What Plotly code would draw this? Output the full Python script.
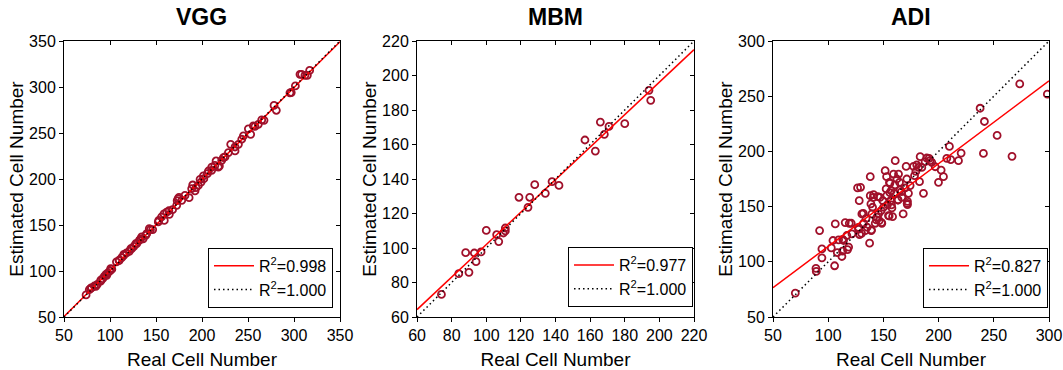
import plotly.graph_objects as go

# ---------------- data ----------------
vgg_real = [74, 77.5, 79, 80, 83, 84.6, 86.2, 89.9, 90, 92, 93.8, 95.6, 96.4, 97.5, 100, 100.7, 102,
            107, 109.8, 110, 112.7, 115, 115, 118, 121, 122.5, 123.5, 126, 127.9, 129, 131.9, 133.3,
            134.4, 136, 138.8, 139.9, 142.7, 144, 146.4, 152.5, 153, 156, 158.7, 159, 161.6, 164,
            164.5, 168, 172.5, 173, 174, 175, 178, 181.5, 186, 188.8, 189.9, 192.4, 193.5, 196,
            197.9, 199, 201.5, 202, 205.8, 207, 210.5, 210.6, 214, 215.3, 217.7, 218.9, 221.4,
            223.3, 225, 228.7, 231.2, 235.9, 235.9, 239.6, 243.2, 245, 250.4, 252.9, 255.8, 257.6,
            261.2, 264.9, 267.4, 278.3, 280.8, 295.6, 297, 301.5, 306.5, 308.3, 311.9, 314.5, 317]
vgg_est = [74, 79.7, 81, 81.9, 83.7, 83.4, 85.5, 89.1, 90, 91.7, 94.2, 96.4, 95.3, 97.8, 100, 102.5, 102,
           110, 111.5, 111.6, 114.5, 118, 117, 119.6, 121.4, 124.2, 124.3, 126.8, 129.6, 129.7, 133.3, 135,
           137, 135, 138.7, 140.6, 146, 145, 145, 153.3, 155, 158.7, 162, 155, 164, 165.5,
           161.6, 166.7, 171.4, 176.4, 178.6, 180, 176.8, 182.2, 179.7, 189.5, 193.5, 187, 190.6, 193,
           199.7, 196.7, 203.3, 200.4, 205.8, 208.7, 209.4, 213, 214.8, 219.6, 213, 214.1, 220.3,
           223.2, 224, 228.7, 237.7, 230.5, 234.8, 237.7, 243.2, 246.8, 254.5, 248.6, 257.7, 257.2,
           259.4, 264.2, 263.8, 280, 274.7, 293.7, 294, 301.2, 313.8, 313.8, 312.7, 312.7, 318]

mbm_real = [74.1, 84.1, 88.1, 90.0, 93.1, 94.1, 97.0, 100.0, 106.0, 107.2, 109.9, 111.0, 111.0,
            118.9, 124.1, 125.1, 128.0, 134.1, 138.0, 142.0, 157.0, 163.0, 165.9, 168.2, 170.9,
            180.0, 194.0, 195.0]
mbm_est = [73.1, 85.1, 97.3, 85.9, 97.1, 92.1, 97.7, 110.2, 107.7, 103.7, 108.7, 111.6, 109.9,
           129.4, 123.6, 129.4, 136.7, 131.7, 138.5, 136.3, 162.6, 156.2, 173.0, 165.9, 170.5,
           172.1, 191.4, 185.6]

adi_real = [70.2, 88.9, 89.2, 92.2, 94.3, 94.3, 102.8, 104.3, 105.8, 106.4, 108.2, 109.4, 112.4,
            113.0, 113.9, 115.4, 116.9, 117.5, 118.5, 119.1, 120.9, 121.5, 126.6, 128.1, 129.3,
            128.4, 127.5, 130.5, 132.0, 133.5, 135.3, 137.5, 138.1, 138.1, 138.7, 139.0, 139.6,
            140.2, 141.1, 142.6, 144.1, 145.0, 145.6, 146.2, 148.0, 148.6, 149.5, 150.1, 151.6,
            152.5, 153.1, 153.7, 154.6, 155.5, 156.5, 157.1, 157.7, 158.3, 159.2, 159.8, 160.7,
            162.2, 163.1, 163.7, 164.6, 165.2, 166.7, 167.9, 169.7, 170.6, 171.2, 171.8, 171.8,
            172.7, 174.2, 177.3, 178.2, 179.4, 181.8, 182.7, 183.3, 184.8, 186.3, 187.8, 189.3,
            191.4, 193.8, 196.9, 199.9, 202.3, 204.4, 207.4, 209.8, 211.0, 218.0, 220.4, 237.6,
            241.5, 240.6, 253.0, 266.5, 273.5, 298.5,
            131.8, 134.3, 127.3, 130.2, 139.2, 143.7, 148.3, 155.2, 157.3, 163.3, 171.5, 166.4,
            160.4, 155.9, 146.9, 140.9, 152.9, 180.2, 155.9, 113.1, 192.2]
adi_est = [71.7, 94.0, 91.3, 128.3, 111.7, 103.6, 112.6, 119.3, 96.4, 134.3, 108.4, 119.9, 104.8,
           109.6, 119.3, 135.5, 123.8, 111.1, 113.3, 134.9, 134.9, 125.3, 166.9, 155.4, 167.5,
           124.7, 129.5, 143.4, 134.9, 128.3, 131.3, 116.9, 177.1, 159.9, 152.4, 128.3, 143.4,
           149.4, 160.8, 134.9, 140.4, 159.0, 143.4, 137.3, 146.4, 134.9, 155.4, 149.4, 182.5,
           166.0, 159.9, 151.8, 141.9, 172.0, 155.4, 164.5, 148.8, 140.9, 179.5, 162.0, 191.6,
           175.0, 156.0, 179.5, 172.0, 165.1, 158.4, 143.4, 166.9, 186.4, 175.0, 154.8, 151.8,
           162.0, 169.0, 186.4, 178.0, 181.9, 185.5, 172.6, 195.2, 185.5, 162.0, 190.7, 194.0,
           193.7, 190.1, 186.1, 172.0, 183.1, 177.1, 193.7, 204.5, 192.5, 191.6, 198.5, 239.1,
           227.1, 198.2, 214.5, 195.5, 261.1, 251.8,
           143.9, 139.4, 131.2, 125.8, 128.8, 137.9, 135.5, 141.5, 151.5, 156.0, 152.9, 163.5,
           169.6, 171.1, 158.4, 158.4, 177.1, 187.7, 162.6, 120.4, 191.6]

# fitted lines (end points) and identity lines
vgg_fit_x, vgg_fit_y = [50, 350], [50.5, 349.2]
mbm_fit_x, mbm_fit_y = [60, 220], [64.3, 215.0]
adi_fit_x, adi_fit_y = [50, 300], [76.5, 263.9]
vgg_id = [50, 350]
mbm_id = [60, 220]
adi_id = [50, 300]

titles = ["VGG", "MBM", "ADI"]
r2_fit = ["0.998", "0.977", "0.827"]
r2_id = "1.000"
ranges = [[50, 350], [60, 220], [50, 300]]
dticks = [50, 20, 50]

# ---------------- figure ----------------
FONT = "Arial, Liberation Sans, sans-serif"
MARK = "#A0102A"
domains = [[0.0, 0.2802], [0.3584, 0.6396], [0.7198, 1.0]]
legend_pos = [(0.2731, 0.033), (0.6386, 0.036), (0.999, 0.033)]

panels = [
    (vgg_real, vgg_est, vgg_fit_x, vgg_fit_y, vgg_id),
    (mbm_real, mbm_est, mbm_fit_x, mbm_fit_y, mbm_id),
    (adi_real, adi_est, adi_fit_x, adi_fit_y, adi_id),
]

fig = go.Figure()
layout = dict(
    width=1063, height=370,
    margin=dict(l=64, r=14, t=41, b=53, autoexpand=False),
    paper_bgcolor="white", plot_bgcolor="white",
    font=dict(family=FONT, color="black"),
    showlegend=True,
    annotations=[],
)

for i, (rx, ey, fx, fy, idl) in enumerate(panels):
    n = i + 1
    xa = "x" if n == 1 else f"x{n}"
    ya = "y" if n == 1 else f"y{n}"
    lg = "legend" if n == 1 else f"legend{n}"
    fig.add_trace(go.Scatter(
        x=rx, y=ey, mode="markers", xaxis=xa, yaxis=ya, showlegend=False,
        marker=dict(symbol="circle-open", size=7, color=MARK, line=dict(width=1.8, color=MARK)),
    ))
    fig.add_trace(go.Scatter(
        x=fx, y=fy, mode="lines", xaxis=xa, yaxis=ya, legend=lg,
        name=f"R<sup>2</sup>={r2_fit[i]}", line=dict(color="#FF0000", width=1.5),
    ))
    fig.add_trace(go.Scatter(
        x=idl, y=idl, mode="lines", xaxis=xa, yaxis=ya, legend=lg,
        name=f"R<sup>2</sup>={r2_id}", line=dict(color="black", width=1.5, dash="1.5px,3px"),
    ))
    # dummy trace for the inward mirror-tick axes
    fig.add_trace(go.Scatter(x=[None], y=[None], xaxis=f"x{n+3}", yaxis=f"y{n+3}",
                             showlegend=False, hoverinfo="skip"))

    common = dict(range=ranges[i], dtick=dticks[i], tick0=0, showgrid=False, zeroline=False,
                  automargin=False,
                  tickfont=dict(size=16, family=FONT, color="black"))
    layout[f"xaxis{'' if n == 1 else n}"] = dict(
        domain=domains[i], anchor=ya, ticks="outside", ticklen=4, tickwidth=1, tickcolor="black",
        showline=True, linecolor="black", linewidth=1, mirror=True,
        title=dict(text="Real Cell Number", font=dict(size=19, family=FONT), standoff=12),
        **common)
    layout[f"yaxis{'' if n == 1 else n}"] = dict(
        domain=[0, 1], anchor=xa, ticks="outside", ticklen=4, tickwidth=1, tickcolor="black",
        showline=True, linecolor="black", linewidth=1, mirror=True,
        title=dict(text="Estimated Cell Number", font=dict(size=19, family=FONT), standoff=0),
        **common)
    layout[f"xaxis{n+3}"] = dict(overlaying=xa, side="top", anchor=ya, ticks="inside", ticklen=4,
                                 tickwidth=1, tickcolor="black", showticklabels=False,
                                 showline=False, range=ranges[i], dtick=dticks[i], tick0=0,
                                 showgrid=False, zeroline=False, automargin=False)
    layout[f"yaxis{n+3}"] = dict(overlaying=ya, side="right", anchor=xa, ticks="inside", ticklen=4,
                                 tickwidth=1, tickcolor="black", showticklabels=False,
                                 showline=False, range=ranges[i], dtick=dticks[i], tick0=0,
                                 showgrid=False, zeroline=False, automargin=False)
    lx, ly = legend_pos[i]
    layout[lg] = dict(x=lx, y=ly, xanchor="right", yanchor="bottom",
                      bgcolor="white", bordercolor="black", borderwidth=1,
                      font=dict(size=16, family=FONT, color="black"),
                      tracegroupgap=0, itemwidth=40)
    layout["annotations"].append(dict(
        text=f"<b>{titles[i]}</b>", x=sum(domains[i]) / 2, y=1.087, xref="paper", yref="paper",
        xanchor="center", yanchor="middle", showarrow=False,
        font=dict(size=23, family=FONT, color="black")))

fig.update_layout(**layout)
fig.write_html("out.html", config={"displayModeBar": False},
               post_script="document.body.style.margin='0';")
